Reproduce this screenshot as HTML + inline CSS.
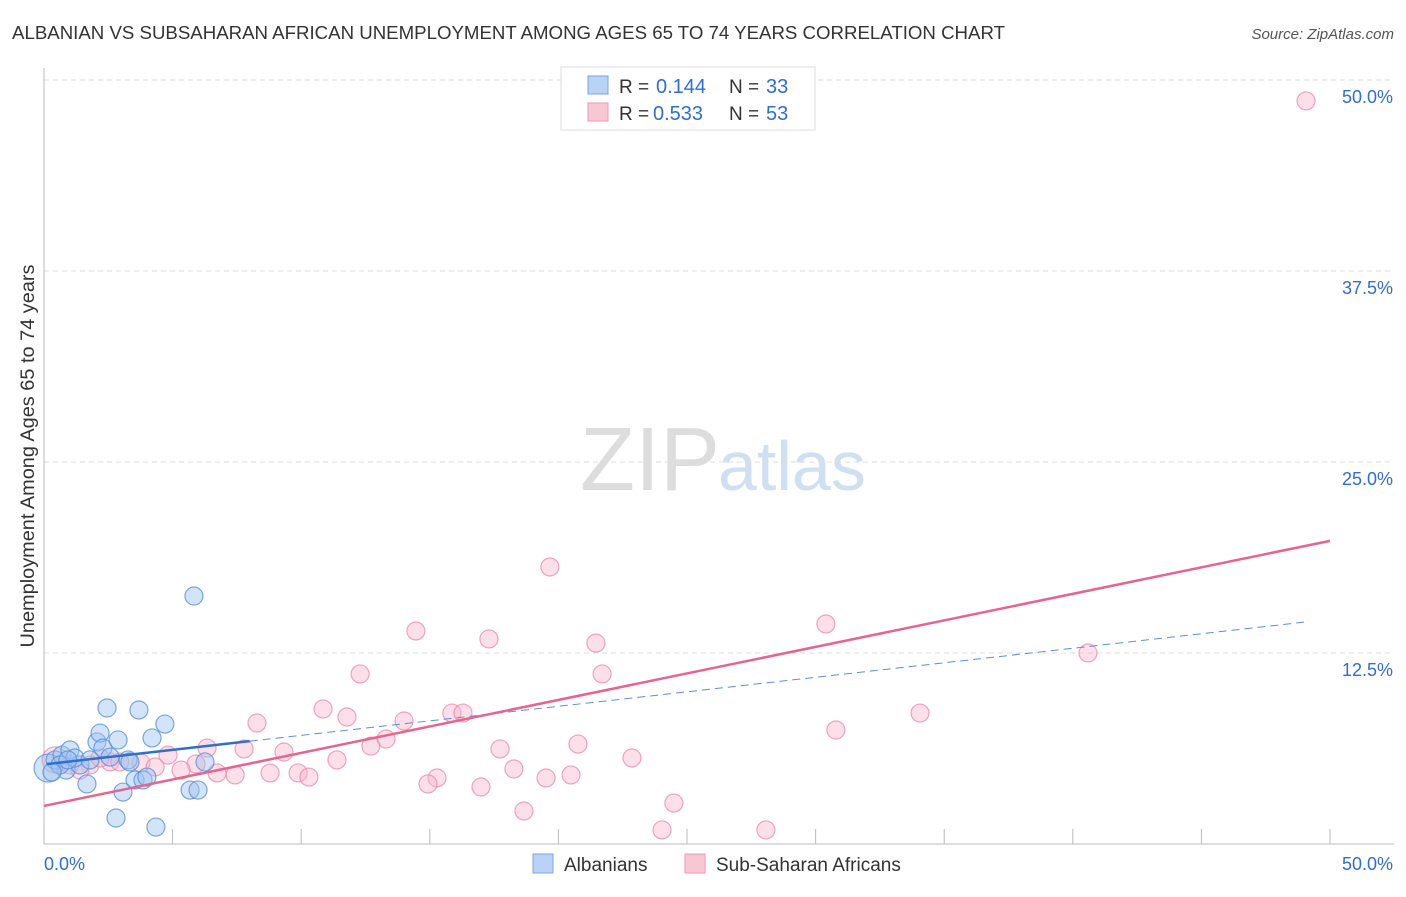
<!DOCTYPE html>
<html><head><meta charset="utf-8"><style>
body{margin:0;background:#fff;font-family:"Liberation Sans",sans-serif;}
svg text{font-family:"Liberation Sans",sans-serif;}
</style></head><body>
<svg id="chart" width="1406" height="892" xmlns="http://www.w3.org/2000/svg">
<text x="12" y="39" font-size="18.5" fill="#333" textLength="993" lengthAdjust="spacingAndGlyphs">ALBANIAN VS SUBSAHARAN AFRICAN UNEMPLOYMENT AMONG AGES 65 TO 74 YEARS CORRELATION CHART</text>
<text x="1394" y="39" font-size="15" fill="#555" text-anchor="end" font-style="italic">Source: ZipAtlas.com</text>
<text x="720" y="490" font-size="90" fill="#ddd" text-anchor="end" font-family="Liberation Serif">ZIP</text>
<text x="718" y="490" font-size="70" fill="#cfe0f3">atlas</text>
<text transform="translate(34,456) rotate(-90)" font-size="19" fill="#333" text-anchor="middle" textLength="383" lengthAdjust="spacingAndGlyphs">Unemployment Among Ages 65 to 74 years</text>
<g id="grid"></g><g id="pts"></g><g id="lines"></g>
<g>
<rect x="561" y="67" width="254" height="63" fill="#fff" stroke="#ddd"/>
<rect x="588" y="76" width="20" height="18" fill="#b8d3f5" stroke="#7aa6e0"/>
<rect x="588" y="103" width="20" height="18" fill="#f9c6d5" stroke="#ee9ab4"/>
<text x="619" y="93" font-size="19" fill="#333">R =</text><text x="656" y="93" font-size="20" fill="#2f6fd0">0.144</text>
<text x="729" y="93" font-size="19" fill="#333">N =</text><text x="766" y="93" font-size="20" fill="#2f6fd0">33</text>
<text x="619" y="120" font-size="19" fill="#333">R =</text><text x="653" y="120" font-size="20" fill="#2f6fd0">0.533</text>
<text x="729" y="120" font-size="19" fill="#333">N =</text><text x="766" y="120" font-size="20" fill="#2f6fd0">53</text>
</g>
<g>
<rect x="533" y="854" width="20" height="19" fill="#b8d3f5" stroke="#7aa6e0"/>
<text x="564" y="871" font-size="19" fill="#333">Albanians</text>
<rect x="685" y="854" width="20" height="19" fill="#f9c6d5" stroke="#ee9ab4"/>
<text x="716" y="871" font-size="19" fill="#333">Sub-Saharan Africans</text>
</g>
</svg>
<script>
const yTicks=[12.5,25,37.5,50];
const yTickLabels=["12.5%","25.0%","37.5%","50.0%"];
const xTickCount=[5,10,15,20,25,30,35,40,45,50];
const blueX=[0.16,0.43,0.7,1.01,0.86,1.4,1.67,2.06,2.18,2.45,2.29,2.88,3.07,2.8,3.27,3.69,3.54,3.85,4.2,4.0,4.35,4.7,5.68,5.99,5.83,6.26,2.57,3.34,0.62,1.2,1.79,0.31,0.93];
const blueY=[4.97,5.5,5.82,6.15,4.84,5.17,3.93,6.68,7.26,8.9,6.28,6.81,3.4,1.7,5.5,8.77,4.19,4.19,6.94,4.38,1.11,7.85,3.53,3.53,16.23,5.37,5.69,5.37,5.17,5.63,5.5,4.71,5.5];
const pinkX=[49.07,19.67,14.46,17.3,21.46,21.7,30.4,40.59,12.29,10.85,11.78,15.86,16.29,14.0,8.28,34.06,30.79,13.3,12.71,17.73,20.76,6.34,7.78,9.33,11.39,22.86,4.82,5.91,3.77,4.32,5.33,6.73,7.43,8.79,9.88,10.3,15.28,14.93,18.27,19.52,20.49,16.99,18.66,24.49,24.03,28.07,2.57,2.95,1.79,1.01,0.43,1.4,2.18];
const pinkY=[48.63,18.13,13.94,13.42,13.15,11.13,14.4,12.5,11.13,8.84,8.31,8.57,8.57,8.05,7.92,8.57,7.46,6.87,6.41,6.22,6.54,6.28,6.22,6.02,5.5,5.63,5.82,5.24,5.3,5.04,4.84,4.65,4.52,4.65,4.65,4.38,4.32,3.93,4.91,4.32,4.52,3.73,2.16,2.68,0.92,0.92,5.37,5.37,5.17,5.17,5.5,4.84,5.63];
const blueTrend=[5.21,0.19];   // intercept, slope
const pinkTrend=[2.49,0.347];
const NS="http://www.w3.org/2000/svg";
const X=v=>44+v*25.72, Y=v=>844-v*15.28;
function mk(t,a,p){const e=document.createElementNS(NS,t);for(const k in a)e.setAttribute(k,a[k]);document.getElementById(p).appendChild(e);return e;}
yTicks.forEach((t,i)=>{
 const g=mk('line',{x1:44,x2:1394,y1:Y(t),y2:Y(t),stroke:'#ddd','stroke-dasharray':'5,4'},'grid');
 
 
 const l=mk('text',{x:1393,y:Y(t)+23,'font-size':18,fill:'#2f6fd0','text-anchor':'end'},'grid');l.textContent=yTickLabels[i];
 
 
});
const ax=mk('line',{x1:44,x2:1394,y1:844,y2:844,stroke:'#bbb'},'grid');


const ay=mk('line',{x1:44,x2:44,y1:68,y2:844,stroke:'#bbb'},'grid');


xTickCount.forEach(t=>{const e=mk('line',{x1:X(t),x2:X(t),y1:829,y2:844,stroke:'#bbb'},'grid');
 
 });
const x0=mk('text',{x:44,y:870,'font-size':18,fill:'#2f6fd0'},'grid');x0.textContent='0.0%';


const x1=mk('text',{x:1393,y:870,'font-size':18,fill:'#2f6fd0','text-anchor':'end'},'grid');x1.textContent='50.0%';


pinkX.forEach((v,i)=>{const c=mk('circle',{cx:X(v),cy:Y(pinkY[i]),r:i==50?13:9,fill:'rgba(248,183,203,0.45)',stroke:'rgba(232,130,162,0.7)','stroke-width':1.2},'pts');
 
 });
blueX.forEach((v,i)=>{const c=mk('circle',{cx:X(v),cy:Y(blueY[i]),r:i==0?14:9,fill:'rgba(160,196,240,0.45)',stroke:'rgba(80,140,220,0.75)','stroke-width':1.2},'pts');
 
 });
const bl=mk('line',{x1:X(0.1),y1:Y(blueTrend[0]+0.1*blueTrend[1]),x2:X(8),y2:Y(blueTrend[0]+8*blueTrend[1]),stroke:'#2f6fd0','stroke-width':2.5},'lines');


const bd=mk('line',{x1:X(8),y1:Y(blueTrend[0]+8*blueTrend[1]),x2:X(49),y2:Y(blueTrend[0]+49*blueTrend[1]),stroke:'#5b8fd8','stroke-width':1,'stroke-dasharray':'8,5'},'lines');


const pl=mk('line',{x1:X(0),y1:Y(pinkTrend[0]),x2:X(50),y2:Y(pinkTrend[0]+50*pinkTrend[1]),stroke:'#e8648e','stroke-width':2.5},'lines');


</script>
</body></html>
